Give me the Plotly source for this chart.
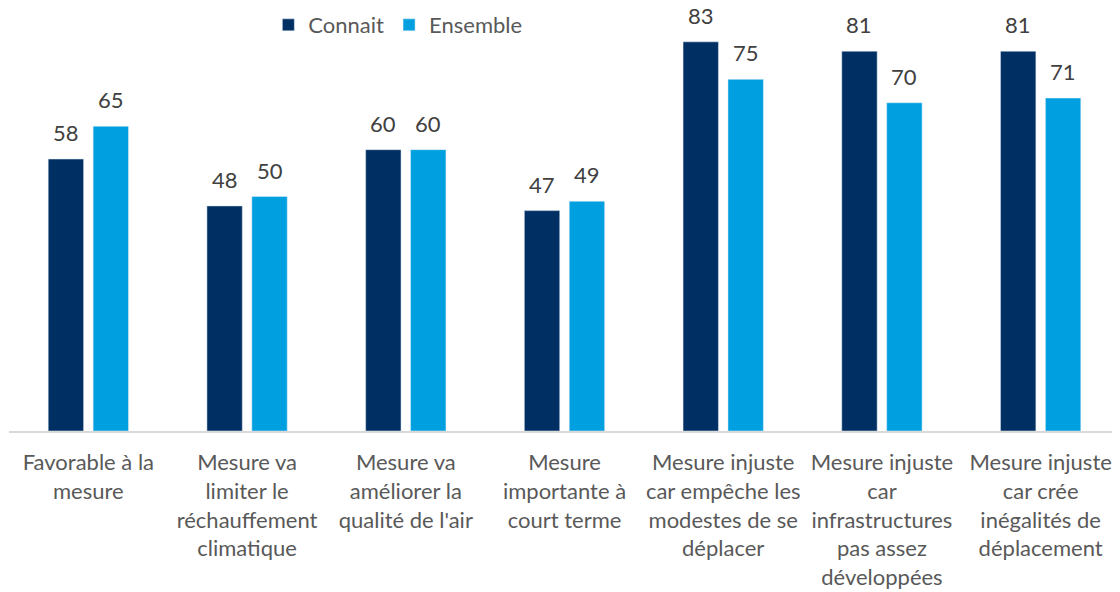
import plotly.graph_objects as go

categories = [
    "Favorable à la<br>mesure",
    "Mesure va<br>limiter le<br>réchauffement<br>climatique",
    "Mesure va<br>améliorer la<br>qualité de l'air",
    "Mesure<br>importante à<br>court terme",
    "Mesure injuste<br>car empêche les<br>modestes de se<br>déplacer",
    "Mesure injuste<br>car<br>infrastructures<br>pas assez<br>développées",
    "Mesure injuste<br>car crée<br>inégalités de<br>déplacement",
]
connait = [58, 48, 60, 47, 83, 81, 81]
ensemble = [65, 50, 60, 49, 75, 70, 71]

FONT = "Lato"
fig = go.Figure()
fig.add_trace(go.Bar(name="Connait", x=categories, y=connait, marker_color="#003063"))
fig.add_trace(go.Bar(name="Ensemble", x=categories, y=ensemble, marker_color="#00A0E0"))

for vals, dx in ((connait, -22.5), (ensemble, 22.5)):
    for c, v in zip(categories, vals):
        fig.add_annotation(x=c, y=v, text=str(v), showarrow=False, xref="x", yref="y",
                           xshift=dx, yshift=11, yanchor="bottom",
                           font=dict(size=22, color="#404040", family=FONT))

fig.update_layout(
    width=1120, height=592,
    margin=dict(l=1, r=8, t=1, b=169, autoexpand=False),
    paper_bgcolor="white", plot_bgcolor="white",
    barmode="group", bargap=0.434, bargroupgap=0.212,
    font=dict(family=FONT, size=22, color="#595959"),
    showlegend=True,
    legend=dict(orientation="h", x=0.35, xanchor="center", y=0.962, yanchor="middle",
                font=dict(size=22, color="#595959", family=FONT), bgcolor="rgba(0,0,0,0)",
                itemwidth=30),
)
fig.update_xaxes(showline=True, linecolor="#D9D9D9", linewidth=2, ticks="", automargin=False,
                 tickfont=dict(size=22, color="#595959", family=FONT), tickangle=0,
                 ticklabelstandoff=11)
fig.update_yaxes(range=[0, 90], visible=False, showgrid=False, zeroline=False, automargin=False)
fig.write_html("out.html")
